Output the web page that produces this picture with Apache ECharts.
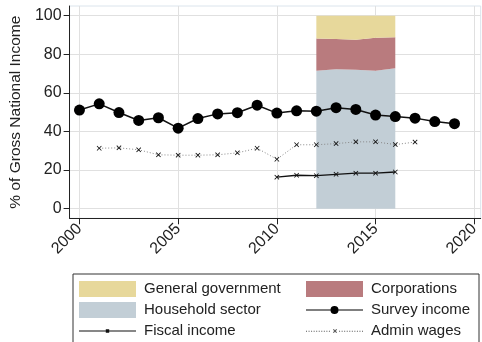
<!DOCTYPE html>
<html>
<head>
<meta charset="utf-8">
<script src="https://cdn.jsdelivr.net/npm/echarts@6/dist/echarts.min.js"></script>
<style>
  html, body { margin: 0; padding: 0; background: #fff; }
  #chart { width: 482px; height: 342px; }
</style>
</head>
<body>
<div id="chart"></div>
<script>
// Income shares, % of Gross National Income
const surveyYears = [2000, 2001, 2002, 2003, 2004, 2005, 2006, 2007, 2008, 2009,
                     2010, 2011, 2012, 2013, 2014, 2015, 2016, 2017, 2018, 2019];
const surveyIncome = [51.1, 54.3, 49.8, 45.7, 47.1, 41.7, 46.7, 49.1, 49.7, 53.6,
                      49.5, 50.7, 50.5, 52.3, 51.4, 48.5, 47.7, 46.9, 45.1, 44.0];

const adminYears = [2001, 2002, 2003, 2004, 2005, 2006, 2007, 2008, 2009,
                    2010, 2011, 2012, 2013, 2014, 2015, 2016, 2017];
const adminWages = [31.3, 31.5, 30.5, 27.9, 27.7, 27.7, 27.9, 28.9, 31.3,
                    25.6, 33.1, 33.1, 33.7, 34.6, 34.6, 33.2, 34.5];

const fiscalYears = [2010, 2011, 2012, 2013, 2014, 2015, 2016];
const fiscalIncome = [16.3, 17.3, 17.1, 17.8, 18.4, 18.4, 19.0];

// National accounts split by institutional sector
const sectorYears = [2012, 2013, 2014, 2015, 2016];
const householdSector = [71.5, 72.2, 72.0, 71.5, 72.7];
const corporations = [16.6, 15.7, 15.5, 17.1, 16.1];
const generalGovernment = [11.9, 12.1, 12.5, 11.4, 11.2];

const xTicks = [2000, 2005, 2010, 2015, 2020];
const yTicks = [0, 20, 40, 60, 80, 100];

const pairs = (xs, ys) => xs.map((x, i) => [x, ys[i]]);
// share first, year second: the stack then sums the share column
const sharePairs = (xs, ys) => xs.map((x, i) => [ys[i], x]);

const FONT = '"Liberation Sans", Arial, Helvetica, sans-serif';
const INK = '#222';
const crossSymbol = 'path://M0,1.2L1.2,0L5,3.8L8.8,0L10,1.2L6.2,5L10,8.8L8.8,10L5,6.2L1.2,10L0,8.8L3.8,5Z';

// Legend keys drawn in a 57 x 16 box
function rectPath(x0, y0, x1, y1) {
  return 'M' + x0 + ',' + y0 + 'L' + x1 + ',' + y0 + 'L' + x1 + ',' + y1 + 'L' + x0 + ',' + y1 + 'Z';
}
const surveyKey = 'path://' + rectPath(0, 7.4, 24.6, 8.6) + rectPath(32.4, 7.4, 57, 8.6) +
  'M24.5,8A4,4 0 1,1 32.5,8A4,4 0 1,1 24.5,8Z';
const fiscalKey = 'path://' + rectPath(0, 7.4, 57, 8.6) + rectPath(26.8, 6.3, 30.2, 9.7);
let adminKeyPath = '';
for (let x = 0; x <= 56; x += 2.5) {
  if (x > 24 && x < 32) continue;
  adminKeyPath += rectPath(x, 7.5, x + 1, 8.5);
}
adminKeyPath += 'M26.5,6.5L27.2,5.8L28.5,7.1L29.8,5.8L30.5,6.5L29.2,7.8L30.5,9.1L29.8,9.8L28.5,8.5L27.2,9.8L26.5,9.1L27.8,7.8Z';
const adminKey = 'path://' + adminKeyPath;

const areaSeries = (name, values, color) => ({
  name: name,
  type: 'line',
  stack: 'sectors',
  data: sharePairs(sectorYears, values),
  encode: { x: 1, y: 0 },
  showSymbol: false,
  symbol: 'none',
  lineStyle: { width: 0 },
  itemStyle: { color: color },
  areaStyle: { color: color, opacity: 1 },
  z: 1
});

const chart = echarts.init(document.getElementById('chart'), null, { renderer: 'canvas' });
chart.setOption({
  animation: false,
  backgroundColor: '#fff',
  textStyle: { fontFamily: FONT },
  grid: {
    left: 67.5, top: 6, right: -2, height: 212.3,
    show: true, borderColor: '#dbe4ec', borderWidth: 1, backgroundColor: 'transparent'
  },
  xAxis: {
    type: 'value',
    min: 1999.5, max: 2020.325,
    axisLine: { show: true, onZero: false, lineStyle: { color: INK, width: 1 } },
    axisTick: { show: true, length: 6, customValues: xTicks, lineStyle: { color: INK } },
    axisLabel: {
      customValues: xTicks, rotate: 45, margin: 8, fontSize: 16, color: INK, fontFamily: FONT,
      formatter: v => String(v)
    },
    splitLine: { show: true, lineStyle: { color: '#e0e0e0', width: 1 } }
  },
  yAxis: {
    type: 'value',
    min: -5, max: 105,
    name: '% of Gross National Income',
    nameLocation: 'middle',
    nameGap: 44,
    nameTextStyle: { fontSize: 15.5, color: INK, fontFamily: FONT },
    axisLine: { show: true, onZero: false, lineStyle: { color: INK, width: 1 } },
    axisTick: { show: true, length: 6, customValues: yTicks, lineStyle: { color: INK } },
    axisLabel: { customValues: yTicks, margin: 8, fontSize: 16, color: INK, fontFamily: FONT },
    splitLine: { show: true, lineStyle: { color: '#e0e0e0', width: 1 } }
  },
  legend: {
    left: 73, top: 274,
    orient: 'horizontal',
    width: 400,
    padding: [7, 7, 12, 6],
    itemWidth: 57, itemHeight: 16, itemGap: 5,
    borderColor: '#333', borderWidth: 1,
    selectedMode: false,
    textStyle: { fontSize: 15, color: INK, fontFamily: FONT, lineHeight: 16, width: 157, padding: [0, 0, 0, 3] },
    data: [
      { name: 'General government', icon: 'rect' },
      { name: 'Corporations', icon: 'rect', textStyle: { width: 101 } },
      { name: 'Household sector', icon: 'rect' },
      { name: 'Survey income', icon: surveyKey, textStyle: { width: 101 } },
      { name: 'Fiscal income', icon: fiscalKey },
      { name: 'Admin wages', icon: adminKey, itemStyle: { color: '#555' }, textStyle: { width: 101 } }
    ]
  },
  series: [
    areaSeries('Household sector', householdSector, '#c2ced6'),
    areaSeries('Corporations', corporations, '#b97b7e'),
    areaSeries('General government', generalGovernment, '#e7d89b'),
    {
      name: 'Admin wages',
      type: 'line',
      data: pairs(adminYears, adminWages),
      symbol: crossSymbol, symbolSize: 5,
      itemStyle: { color: '#111' },
      lineStyle: { color: '#888', width: 1, type: [1, 2] },
      z: 3
    },
    {
      name: 'Fiscal income',
      type: 'line',
      data: pairs(fiscalYears, fiscalIncome),
      symbol: crossSymbol, symbolSize: 5,
      itemStyle: { color: '#111' },
      lineStyle: { color: '#111', width: 1.3 },
      z: 3
    },
    {
      name: 'Survey income',
      type: 'line',
      data: pairs(surveyYears, surveyIncome),
      symbol: 'circle', symbolSize: 11,
      itemStyle: { color: '#000' },
      lineStyle: { color: '#111', width: 1.5 },
      z: 4
    }
  ]
});
</script>
</body>
</html>
